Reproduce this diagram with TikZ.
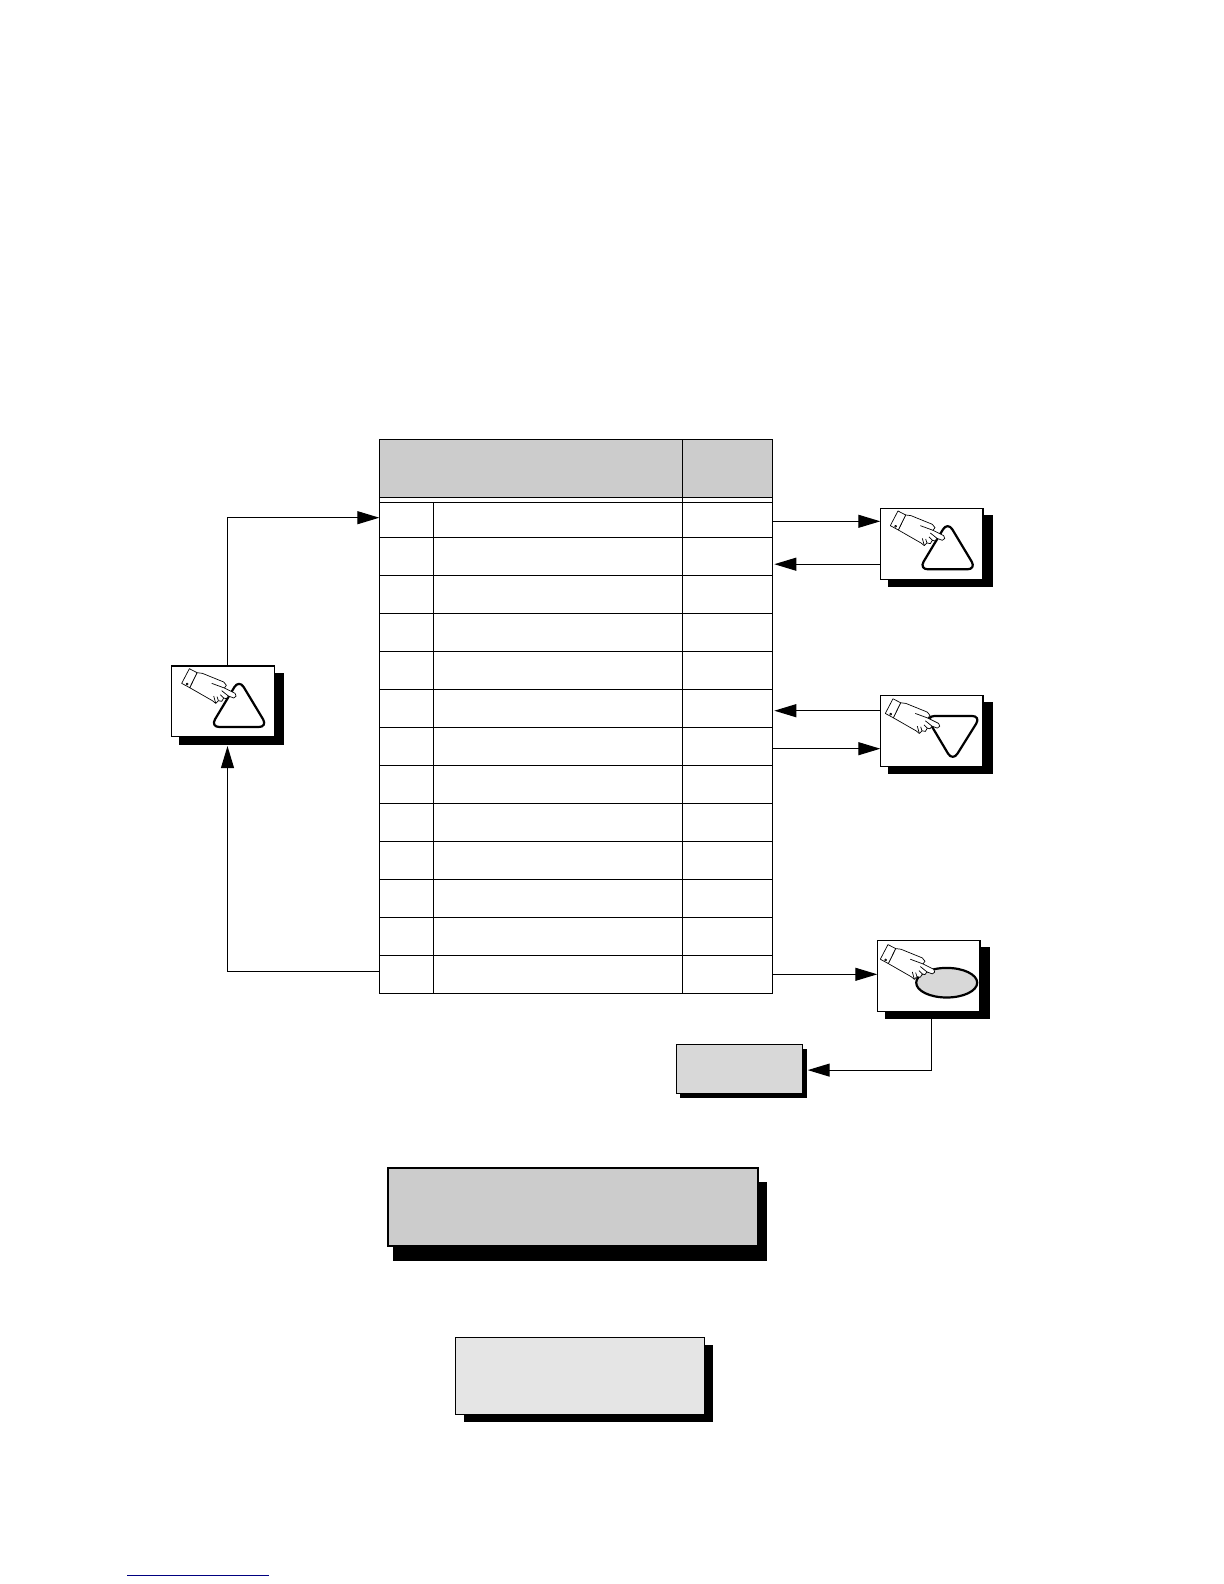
\documentclass[tikz,border=0pt]{standalone}
\usepackage{xcolor}
\usetikzlibrary{positioning, arrows.meta, shapes.geometric, shadows}
\definecolor{HeadGray}{HTML}{CCCCCC}
\definecolor{BoxGray}{HTML}{D8D8D8}
\definecolor{NoteGray}{HTML}{E5E5E5}
\definecolor{RuleBlue}{HTML}{000080}

\begin{document}
\begin{tikzpicture}[
    cell/.style={draw=black, line width=0.6pt, inner sep=0pt, outer sep=0pt},
    headcell/.style={cell, fill=HeadGray, minimum height=29.1pt},
    rowcell/.style={cell, minimum width=196.5pt, minimum height=19pt},
    handbox/.style={cell, fill=white, minimum width=51.3pt, minimum height=35.4pt,
        general shadow={fill=black, shadow scale=1.02, shadow xshift=4.2pt, shadow yshift=-3.7pt}},
    arr/.style={-{Triangle[length=11pt, width=6.5pt]}, line width=0.55pt, color=black},
    iconline/.style={x=0.1667pt, y=-0.1667pt, draw=black, line join=round},
    pics/triup/.style={code={
        \draw[iconline, line width=1.1pt, rounded corners=4.5pt] (202,40) -- (288,183) -- (116,183) -- cycle;
    }},
    pics/tridown/.style={code={
        \draw[iconline, line width=1.1pt, rounded corners=4.5pt] (136,62) -- (302,62) -- (217,198) -- cycle;
    }},
    pics/handicon/.style={code={
        \filldraw[iconline, fill=white, line width=0.35pt] (76,20) -- (92,22) -- (156,48) -- (164,58) -- (158,66) -- (190,82)
            .. controls (196,86) and (194,96) .. (186,96) -- (170,90) -- (164,98) -- (156,96) -- (150,106) -- (140,104) -- (132,112) -- (122,104) -- (54,65) -- cycle;
        \draw[iconline, line width=0.35pt, fill=white] (53,8) -- (76,20) -- (54,65) -- (30,52) -- cycle;
        \draw[iconline, line width=0.35pt] (46,54) circle (3);
        \draw[iconline, line width=0.35pt] (120,52) -- (158,66);
        \draw[iconline, line width=0.35pt] (150,74) -- (170,90);
        \draw[iconline, line width=0.35pt] (146,86) -- (156,96) (136,92) -- (140,104) (126,90) -- (132,112);
    }}
]

\useasboundingbox (0pt,0pt) rectangle (612pt,-792pt);

% Table head
\node[headcell, minimum width=151.7pt, anchor=north west] (headmain) at (189.65pt,-219.75pt) {};
\node[headcell, minimum width=44.8pt, right=0pt of headmain] (headside) {};
\node[cell, minimum width=196.5pt, minimum height=2.3pt, below right=0pt and 0pt of headmain.south west] (headgap) {};

% Table rows
\node[rowcell, minimum height=17.5pt, below right=0pt and 0pt of headgap.south west] (row1) {};
\node[rowcell, below=0pt of row1] (row2) {};
\node[rowcell, below=0pt of row2] (row3) {};
\node[rowcell, below=0pt of row3] (row4) {};
\node[rowcell, below=0pt of row4] (row5) {};
\node[rowcell, below=0pt of row5] (row6) {};
\node[rowcell, below=0pt of row6] (row7) {};
\node[rowcell, below=0pt of row7] (row8) {};
\node[rowcell, below=0pt of row8] (row9) {};
\node[rowcell, below=0pt of row9] (row10) {};
\node[rowcell, below=0pt of row10] (row11) {};
\node[rowcell, below=0pt of row11] (row12) {};
\node[rowcell, below=0pt of row12] (row13) {};

% Column rules
\draw[line width=0.6pt] (headmain.south east) -- (headmain.south east |- row13.south);
\draw[line width=0.6pt] ([xshift=27pt]row1.north west) -- ([xshift=27pt]row13.south west);

% Hand boxes
\node[handbox, below left=7.35pt and 52.5pt of row4.south west] (handleft) {};
\node[handbox, below right=5.3pt and 54pt of headside.south east] (handup) {};
\node[handbox, below right=3pt and 54pt of row5.south east] (handdown) {};
\node[handbox, below right=11.5pt and 52.5pt of row11.south east] (handoval) {};

% Icons on the hand boxes
\pic at (handleft.north west) {triup};
\pic at (handleft.north west) {handicon};
\pic at (handup.north west) {triup};
\pic at (handup.north west) {handicon};
\pic at (handdown.north west) {tridown};
\pic at ([shift={(-2.5pt,-0.4pt)}]handdown.north west) {handicon};
\node[draw=black, line width=1.1pt, fill=BoxGray, ellipse, inner sep=0pt, minimum width=30.5pt, minimum height=14.8pt, anchor=center] (oval) at ([shift={(34.7pt,-21.2pt)}]handoval.north west) {};
\pic at ([shift={(-3.5pt,-0.8pt)}]handoval.north west) {handicon};

% Grey boxes
\node[cell, fill=BoxGray, minimum width=63.2pt, minimum height=24.5pt, below left=16.5pt and 37.3pt of handoval.south west,
    general shadow={fill=black, shadow xshift=2pt, shadow yshift=-2.2pt}] (graybox) {};
\node[cell, fill=HeadGray, line width=1pt, minimum width=185.3pt, minimum height=39.15pt, below right=87.2pt and 4.2pt of row13.south west,
    general shadow={fill=black, shadow scale=1.01, shadow xshift=3.4pt, shadow yshift=-7.3pt}] (bigbox) {};
\node[cell, fill=NoteGray, minimum width=124.5pt, minimum height=38.5pt, below right=45.65pt and 33.8pt of bigbox.south west,
    general shadow={fill=black, shadow xshift=4.2pt, shadow yshift=-3.6pt}] (notebox) {};

% Arrows
\draw[arr] ([xshift=2.25pt]handleft.north) |- ([yshift=1.05pt]row1.west);
\draw[arr] ([yshift=1.35pt]row13.west) -| ([xshift=2.25pt,yshift=-4.65pt]handleft.south);
\coordinate (upout) at ([yshift=-0.75pt]row1.east);
\coordinate (upback) at ([yshift=-10.25pt]handup.west);
\coordinate (downback) at ([yshift=10pt]handdown.west);
\coordinate (downout) at ([yshift=-9pt]handdown.west);
\draw[arr] (upout) -- (upout -| handup.west);
\draw[arr] (upback) -- ([xshift=1pt]row2.east |- upback);
\draw[arr] (downback) -- ([xshift=1pt]row6.east |- downback);
\draw[arr] (row7.east |- downout) -- (downout);
\draw[arr] (row13.east) -- (row13.east -| handoval.west);
\draw[arr] ([xshift=1.5pt]handoval.south) |- ([xshift=2.5pt,yshift=-0.75pt]graybox.east);

% Footnote rule
\coordinate (ruleleft) at (63.5pt,-787.65pt);
\coordinate (ruleright) at (134.5pt,-787.65pt);
\draw[RuleBlue, line width=0.7pt] (ruleleft) -- (ruleright);

\end{tikzpicture}
\end{document}
